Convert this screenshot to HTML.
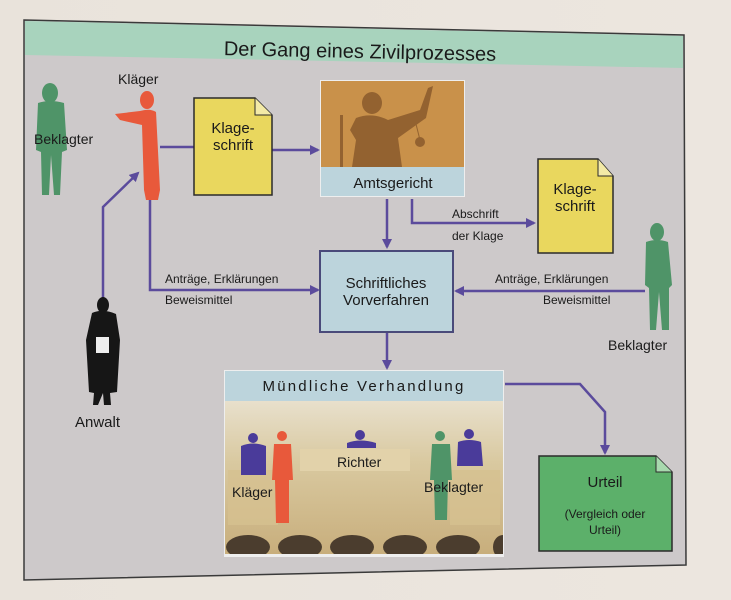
<!DOCTYPE html>
<html><head><meta charset="utf-8"><style>
html,body{margin:0;padding:0;background:#e4ded6;}
svg{display:block;}
text{font-family:"Liberation Sans","DejaVu Sans",sans-serif;fill:#1a1a1a;}
</style></head><body>
<svg width="731" height="600" viewBox="0 0 731 600" xmlns="http://www.w3.org/2000/svg">
<defs>
<marker id="a" markerWidth="10" markerHeight="10" refX="8" refY="5" orient="auto" markerUnits="userSpaceOnUse"><path d="M0,0 L10,5 L0,10 z" fill="#5b4b9c"/></marker>
<linearGradient id="bg" x1="0" y1="0" x2="1" y2="0"><stop offset="0" stop-color="#e9e3db"/><stop offset="1" stop-color="#ece6df"/></linearGradient>
<linearGradient id="court" x1="0" y1="0" x2="0" y2="1"><stop offset="0" stop-color="#e8e0cc"/><stop offset="0.4" stop-color="#d9c9a0"/><stop offset="1" stop-color="#c8ae7c"/></linearGradient>
<clipPath id="cc"><rect x="225" y="401" width="278" height="153"/></clipPath>
</defs>
<rect width="731" height="600" fill="url(#bg)"/>
<polygon points="24,20 684,35 686,565 24,580" fill="#cdc9ca" stroke="#3a3a3a" stroke-width="1.5"/>
<polygon points="25,21 683,36 683,68 25,55" fill="#a8d3bd"/>
<text x="360" y="58" font-size="20" text-anchor="middle" transform="rotate(1.2 360 52)">Der Gang eines Zivilprozesses</text>

<g fill="#4f9468">
<ellipse cx="50" cy="93" rx="8" ry="10"/>
<path d="M38,103 Q50,99 64,103 L67,150 L62,152 L60,195 L54,195 L51,155 L49,195 L42,195 L41,152 L36,150 Z"/>
</g>
<text x="34" y="144" font-size="14">Beklagter</text>
<g fill="#e8593b">
<ellipse cx="147" cy="100" rx="7" ry="9"/>
<path d="M115,114 L140,111 Q150,108 156,112 L160,190 L158,200 L146,200 L144,190 L142,125 L120,120 Z"/>
</g>
<text x="118" y="84" font-size="14">Kläger</text>

<g stroke="#5b4b9c" stroke-width="2.5" fill="none">
<line x1="160" y1="147" x2="194" y2="147"/>
<line x1="272" y1="150" x2="318" y2="150" marker-end="url(#a)"/>
<line x1="387" y1="199" x2="387" y2="247" marker-end="url(#a)"/>
<polyline points="412,199 412,223 534,223" marker-end="url(#a)"/>
<polyline points="150,200 150,290 318,290" marker-end="url(#a)"/>
<line x1="645" y1="291" x2="456" y2="291" marker-end="url(#a)"/>
<polyline points="103,300 103,207 138,173" marker-end="url(#a)"/>
<line x1="387" y1="332" x2="387" y2="368" marker-end="url(#a)"/>
<polyline points="505,384 580,384 605,412 605,453" marker-end="url(#a)"/>
</g>

<path d="M194,98 L255,98 L272,115 L272,195 L194,195 Z" fill="#e9d75e" stroke="#2b2b2b" stroke-width="1.5"/>
<path d="M255,98 L255,115 L272,115" fill="#f3eaa6" stroke="#2b2b2b" stroke-width="1"/>
<text x="233" y="133" font-size="15" text-anchor="middle">Klage-</text>
<text x="233" y="150" font-size="15" text-anchor="middle">schrift</text>

<rect x="320" y="80" width="145" height="117" fill="#eeeeee"/>
<rect x="321" y="81" width="143" height="86" fill="#c9914a"/>
<g fill="#8a5a2c" opacity="0.85">
<ellipse cx="372" cy="103" rx="10" ry="11"/>
<path d="M356,118 Q372,112 388,120 L420,110 L428,88 L433,86 L426,118 L398,138 L402,167 L352,167 L356,140 L350,130 Z"/>
<rect x="340" y="115" width="3" height="52"/>
<line x1="414" y1="116" x2="420" y2="140" stroke="#8a5a2c"/>
<circle cx="420" cy="142" r="5"/>
</g>
<rect x="321" y="167" width="143" height="29" fill="#bcd4dc"/>
<text x="393" y="188" font-size="15" text-anchor="middle">Amtsgericht</text>

<text x="452" y="218" font-size="12">Abschrift</text>
<text x="452" y="240" font-size="12">der Klage</text>

<path d="M538,159 L598,159 L613,176 L613,253 L538,253 Z" fill="#e9d75e" stroke="#2b2b2b" stroke-width="1.5"/>
<path d="M598,159 L598,176 L613,176" fill="#f3eaa6" stroke="#2b2b2b" stroke-width="1"/>
<text x="575" y="194" font-size="15" text-anchor="middle">Klage-</text>
<text x="575" y="211" font-size="15" text-anchor="middle">schrift</text>

<rect x="320" y="251" width="133" height="81" fill="#bcd4dc" stroke="#4a4a7a" stroke-width="2"/>
<text x="386" y="288" font-size="15" text-anchor="middle">Schriftliches</text>
<text x="386" y="305" font-size="15" text-anchor="middle">Vorverfahren</text>

<text x="165" y="283" font-size="12">Anträge, Erklärungen</text>
<text x="165" y="304" font-size="12">Beweismittel</text>
<text x="495" y="283" font-size="12">Anträge, Erklärungen</text>
<text x="543" y="304" font-size="12">Beweismittel</text>

<g fill="#4f9468">
<ellipse cx="657" cy="232" rx="7" ry="9"/>
<path d="M646,242 Q657,238 668,242 L672,285 L669,288 L669,330 L662,330 L659,292 L656,330 L650,330 L649,288 L645,285 Z"/>
</g>
<text x="608" y="350" font-size="14">Beklagter</text>

<g fill="#161616">
<ellipse cx="103" cy="305" rx="6" ry="8"/>
<path d="M92,313 Q103,308 116,314 L120,340 L117,392 L110,393 L111,405 L104,405 L103,393 L98,405 L93,405 L94,393 L89,392 L86,340 Z"/>
</g>
<rect x="96" y="337" width="13" height="16" fill="#eee"/>
<text x="75" y="427" font-size="15">Anwalt</text>

<rect x="224" y="370" width="280" height="187" fill="#eeeeee"/>
<rect x="225" y="371" width="278" height="30" fill="#bcd4dc"/>
<text x="364" y="391" font-size="15" text-anchor="middle" letter-spacing="2.2">Mündliche Verhandlung</text>
<g clip-path="url(#cc)">
<rect x="225" y="401" width="278" height="153" fill="url(#court)"/>
<rect x="300" y="449" width="110" height="22" fill="#e2d2aa"/>
<rect x="228" y="470" width="50" height="55" fill="#d6c190" opacity="0.8"/>
<rect x="450" y="470" width="50" height="55" fill="#d6c190" opacity="0.8"/>
<g fill="#4b3d2e">
<ellipse cx="248" cy="547" rx="22" ry="12"/><ellipse cx="300" cy="547" rx="22" ry="12"/>
<ellipse cx="352" cy="547" rx="22" ry="12"/><ellipse cx="405" cy="547" rx="22" ry="12"/>
<ellipse cx="458" cy="547" rx="22" ry="12"/><ellipse cx="503" cy="547" rx="10" ry="12"/>
</g>
</g>
<g fill="#4a3b9a">
<circle cx="253" cy="438" r="5"/><path d="M241,446 Q253,441 266,446 L266,475 L241,475 Z"/>
<circle cx="360" cy="435" r="5"/><path d="M347,443 Q360,438 376,443 L376,448 L347,448 Z"/>
<circle cx="469" cy="434" r="5"/><path d="M458,442 Q469,438 481,442 L483,466 L457,466 Z"/>
</g>
<g fill="#e8593b"><circle cx="282" cy="436" r="5"/><path d="M274,444 L291,444 L293,480 L289,480 L289,523 L276,523 L275,480 L272,480 Z"/></g>
<g fill="#4f9468"><circle cx="440" cy="436" r="5"/><path d="M432,444 L450,444 L452,480 L448,480 L447,520 L435,520 L434,480 L430,480 Z"/></g>
<text x="232" y="497" font-size="14">Kläger</text>
<text x="337" y="467" font-size="14">Richter</text>
<text x="424" y="492" font-size="14">Beklagter</text>

<path d="M539,456 L656,456 L672,472 L672,551 L539,551 Z" fill="#5cb06a" stroke="#2b2b2b" stroke-width="1.5"/>
<path d="M656,456 L656,472 L672,472" fill="#a8d9ae" stroke="#2b2b2b" stroke-width="1"/>
<text x="605" y="487" font-size="15" text-anchor="middle">Urteil</text>
<text x="605" y="518" font-size="12" text-anchor="middle">(Vergleich oder</text>
<text x="605" y="534" font-size="12" text-anchor="middle">Urteil)</text>
</svg>
</body></html>
